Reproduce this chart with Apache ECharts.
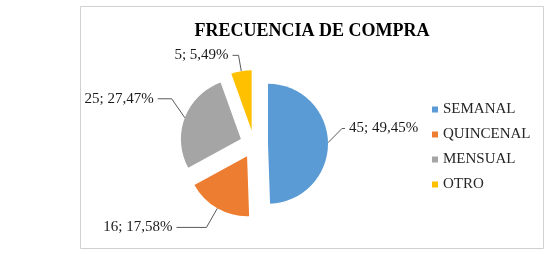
<!DOCTYPE html>
<html>
<head>
<meta charset="utf-8">
<script src="https://cdn.jsdelivr.net/npm/echarts@6/dist/echarts.min.js"></script>
<style>
  html, body { margin: 0; padding: 0; background: #fff; }
  #chart { width: 550px; height: 253px; }
</style>
</head>
<body>
<div id="chart"></div>
<script>
const categories = ["SEMANAL", "QUINCENAL", "MENSUAL", "OTRO"];
const values = [45, 16, 25, 5];
const colors = ["#5B9BD5", "#ED7D31", "#A5A5A5", "#FFC000"];

// largo de las líneas guía por porción
const lineLen = [14, 22, 14, 16];
const lineLen2 = [3, 30, 14, 6];
// desplazamiento vertical de las etiquetas
const labelDy = [-14, 0, -14, 0];

const total = values.reduce((a, b) => a + b, 0);

const chart = echarts.init(document.getElementById("chart"));

const option = {
  animation: false,
  title: {
    text: "FRECUENCIA DE COMPRA",
    left: 307,
    textAlign: "center",
    top: 17,
    textStyle: {
      fontFamily: "Liberation Serif",
      fontWeight: "bold",
      fontSize: 18,
      color: "#000"
    }
  },
  legend: {
    orient: "vertical",
    left: 427,
    top: 97,
    icon: "rect",
    itemWidth: 6,
    itemHeight: 6,
    itemGap: 10,
    selectedMode: false,
    textStyle: {
      fontFamily: "Liberation Serif",
      fontSize: 15,
      lineHeight: 15,
      color: "#262626"
    },
    data: categories
  },
  graphic: [{
    type: "rect",
    shape: { x: 80.5, y: 6.5, width: 463, height: 242 },
    style: { fill: "none", stroke: "#d0d0d0", lineWidth: 1 },
    silent: true
  }],
  series: [{
    type: "pie",
    center: [254, 144],
    radius: 60,
    startAngle: 90,
    selectedMode: "multiple",
    selectedOffset: 14,
    emphasis: { disabled: true },
    label: {
      show: true,
      position: "outside",
      distanceToLabelLine: 4,
      fontFamily: "Liberation Serif",
      fontSize: 15,
      color: "#1a1a1a",
      formatter: p => p.value + "; " + (p.value / total * 100).toFixed(2).replace(".", ",") + "%"
    },
    labelLine: {
      show: true,
      lineStyle: { color: "#595959", width: 1 }
    },
    // sube la etiqueta y el tramo final de su línea guía
    labelLayout: p => {
      const dy = labelDy[p.dataIndex];
      if (!dy || !p.labelLinePoints) return {};
      const pts = p.labelLinePoints.map((pt, k) => k === 0 ? [pt[0], pt[1]] : [pt[0], pt[1] + dy]);
      return { dy: dy, labelLinePoints: pts };
    },
    data: categories.map((name, i) => ({
      name: name,
      value: values[i],
      selected: true,
      itemStyle: { color: colors[i] },
      labelLine: { length: lineLen[i], length2: lineLen2[i] }
    }))
  }]
};

chart.setOption(option);
</script>
</body>
</html>
